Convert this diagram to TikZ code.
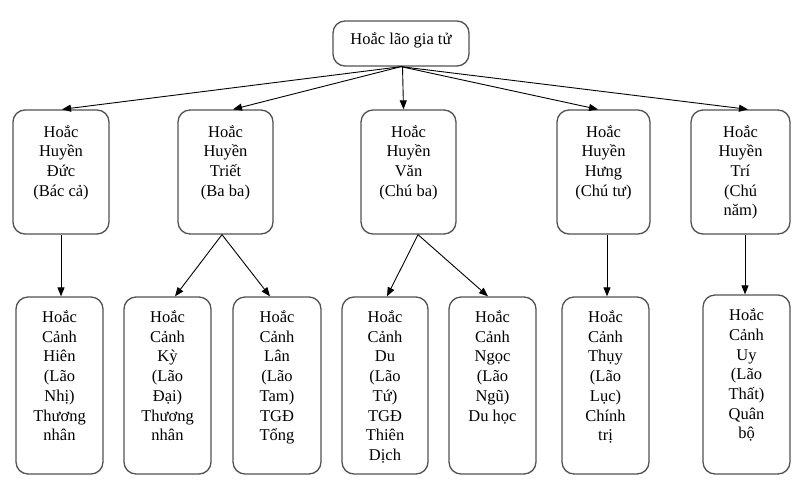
\documentclass[tikz,border=0pt]{standalone}
\usepackage{fontspec}
\setmainfont{Liberation Serif}
\newfontfamily\boxfont{Liberation Serif}
\usetikzlibrary{arrows.meta}
\newcommand{\btext}[4]{\parbox[c][#2][t]{#1}{\centering\rule{0pt}{#3}#4}}
\tikzset{
  famBox/.style={draw=black!68, line width=1.3pt, rounded corners=12pt, inner sep=0pt, fill=white,
    font=\boxfont\fontsize{16.5}{19.7}\selectfont, text=black},
  link/.style={draw=black, line width=0.9pt, -{Triangle[length=9pt,width=7pt]}}
}
\begin{document}
\begin{tikzpicture}[x=1pt,y=-1pt]
\useasboundingbox[fill=white] (0,0) rectangle (802,498);
% top
\node[famBox] (T) at (401,43.5) {\btext{136pt}{45pt}{23pt}{Hoắc lão gia tử}};
% level 2
\node[famBox] (b1) at (61,172) {\btext{96pt}{124pt}{27pt}{Hoắc\\Huyền\\Đức\\(Bác cả)}};
\node[famBox] (b2) at (225.5,172) {\btext{95pt}{124pt}{27pt}{Hoắc\\Huyền\\Triết\\(Ba ba)}};
\node[famBox] (b3) at (408.5,172) {\btext{95pt}{124pt}{27pt}{Hoắc\\Huyền\\Văn\\(Chú ba)}};
\node[famBox] (b4) at (603.5,172) {\btext{93pt}{124pt}{27pt}{Hoắc\\Huyền\\Hưng\\(Chú tư)}};
\node[famBox] (b5) at (740.5,172) {\btext{99pt}{124pt}{27pt}{Hoắc\\Huyền\\Trí\\(Chú\\năm)}};
% level 3
\node[famBox] (cA) at (59.5,385.5) {\btext{87pt}{177pt}{25.5pt}{Hoắc\\Cảnh\\Hiên\\(Lão\\Nhị)\\Thương\\nhân}};
\node[famBox] (cB) at (167.5,385.5) {\btext{87pt}{177pt}{25.5pt}{Hoắc\\Cảnh\\Kỳ\\(Lão\\Đại)\\Thương\\nhân}};
\node[famBox] (cC) at (277,385.5) {\btext{88pt}{177pt}{25.5pt}{Hoắc\\Cảnh\\Lân\\(Lão\\Tam)\\TGĐ\\Tổng}};
\node[famBox] (cD) at (385,385.5) {\btext{86pt}{177pt}{25.5pt}{Hoắc\\Cảnh\\Du\\(Lão\\Tứ)\\TGĐ\\Thiên\\Dịch}};
\node[famBox] (cE) at (492.5,385.5) {\btext{87pt}{177pt}{25.5pt}{Hoắc\\Cảnh\\Ngọc\\(Lão\\Ngũ)\\Du học}};
\node[famBox] (cF) at (605.5,385.5) {\btext{87pt}{177pt}{25.5pt}{Hoắc\\Cảnh\\Thụy\\(Lão\\Lục)\\Chính\\trị}};
\node[famBox] (cG) at (746.5,384.5) {\btext{87pt}{179pt}{25.7pt}{Hoắc\\Cảnh\\Uy\\(Lão\\Thất)\\Quân\\bộ}};
% connectors from top
\draw[link] (T.south) -- ([xshift=1pt]b1.north);
\draw[link] (T.south) -- ([xshift=7.5pt]b2.north);
\draw[link] ([xshift=1.5pt]T.south) -- ([xshift=-5pt]b3.north);
\draw[link] (T.south) -- ([xshift=-5.5pt]b4.north);
\draw[link] (T.south) -- ([xshift=7.5pt]b5.north);
% level 2 to level 3
\draw[link] (b1.south) -- (b1.south |- cA.north);
\draw[link] ([xshift=-3.5pt]b2.south) -- ([xshift=7.5pt]cB.north);
\draw[link] ([xshift=-3.5pt]b2.south) -- ([xshift=-7pt]cC.north);
\draw[link] ([xshift=9.5pt]b3.south) -- ([xshift=2pt]cD.north);
\draw[link] ([xshift=9.5pt]b3.south) -- ([xshift=-4.5pt]cE.north);
\draw[link] ([xshift=3.5pt]b4.south) -- ([xshift=3.5pt]b4.south |- cF.north);
\draw[link] ([xshift=4.5pt]b5.south) -- ([xshift=4.5pt]b5.south |- cG.north);
\end{tikzpicture}
\end{document}
